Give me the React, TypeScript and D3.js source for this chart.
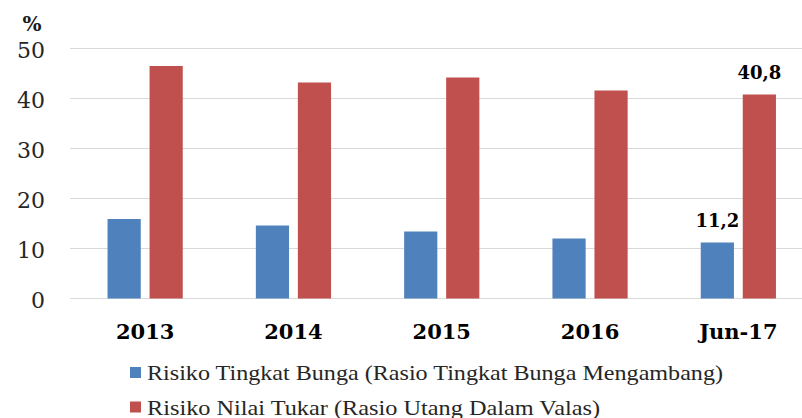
import * as d3 from 'd3';
import { useEffect, useRef } from 'react';

const categories = ['2013', '2014', '2015', '2016', 'Jun-17'];
const seriesNames = [
  'Risiko Tingkat Bunga (Rasio Tingkat Bunga Mengambang)',
  'Risiko Nilai Tukar (Rasio Utang Dalam Valas)',
];
const interestRisk = [15.9, 14.6, 13.4, 12.0, 11.2];
const fxRisk = [46.5, 43.2, 44.2, 41.6, 40.8];
const yTicks = [0, 10, 20, 30, 40, 50];
const seriesColors = ['#4F81BD', '#C0504D'];

const width = 802;
const height = 418;

export default function App(): React.ReactElement {
  const svgRef = useRef<SVGSVGElement>(null);

  useEffect(() => {
    if (!svgRef.current) return;
    const svg = d3.select(svgRef.current);
    svg.selectAll('*').remove();

    const numFont = "'DejaVu Serif', serif";
    const textFont = "'Liberation Serif', 'DejaVu Serif', serif";

    const x0 = d3.scaleBand().domain(categories).range([71, 812.5]).padding(0);
    const x1 = d3
      .scaleBand()
      .domain(['0', '1'])
      .range([0, x0.bandwidth()])
      .paddingInner(0.21)
      .paddingOuter(0.87);
    const y = d3.scaleLinear().domain([0, 50]).range([298.5, 48.5]);

    // grid
    svg
      .append('g')
      .selectAll('line')
      .data(yTicks)
      .enter()
      .append('line')
      .attr('x1', 70)
      .attr('x2', width)
      .attr('y1', (d) => y(d))
      .attr('y2', (d) => y(d))
      .attr('stroke', '#d9d9d9')
      .attr('stroke-width', 1.2);

    // y tick labels
    svg
      .append('g')
      .selectAll('text')
      .data(yTicks)
      .enter()
      .append('text')
      .attr('x', 45)
      .attr('y', (d) => y(d))
      .attr('dy', '0.42em')
      .attr('text-anchor', 'end')
      .attr('fill', '#262626')
      .attr('font-family', numFont)
      .attr('font-size', 22)
      .text((d) => d);

    svg
      .append('text')
      .attr('x', 32)
      .attr('y', 31)
      .attr('text-anchor', 'middle')
      .attr('fill', '#1a1a1a')
      .attr('font-family', numFont)
      .attr('font-weight', 'bold')
      .attr('font-size', 20)
      .text('%');

    // bars
    const rows = categories.map((c, i) => ({ cat: c, values: [interestRisk[i], fxRisk[i]] }));
    const groups = svg
      .append('g')
      .selectAll('g')
      .data(rows)
      .enter()
      .append('g')
      .attr('transform', (d) => `translate(${x0(d.cat)},0)`);

    groups
      .selectAll('rect')
      .data((d) => d.values.map((v, k) => ({ k, v })))
      .enter()
      .append('rect')
      .attr('x', (d) => x1(String(d.k)) || 0)
      .attr('width', x1.bandwidth())
      .attr('y', (d) => y(d.v))
      .attr('height', (d) => y(0) - y(d.v))
      .attr('fill', (d) => seriesColors[d.k]);

    // value labels on last category
    const last = categories.length - 1;
    const labelData = [
      { k: 0, v: interestRisk[last] },
      { k: 1, v: fxRisk[last] },
    ];
    svg
      .append('g')
      .selectAll('text')
      .data(labelData)
      .enter()
      .append('text')
      .attr('x', (d) => (x0(categories[last]) || 0) + (x1(String(d.k)) || 0) + x1.bandwidth() / 2)
      .attr('y', (d) => y(d.v) - 16)
      .attr('text-anchor', 'middle')
      .attr('fill', '#000')
      .attr('font-family', numFont)
      .attr('font-weight', 'bold')
      .attr('font-size', 18)
      .text((d) => d.v.toFixed(1).replace('.', ','));

    // x labels
    svg
      .append('g')
      .selectAll('text')
      .data(categories)
      .enter()
      .append('text')
      .attr('x', (d) => (x0(d) || 0) + x0.bandwidth() / 2)
      .attr('y', 339)
      .attr('text-anchor', 'middle')
      .attr('fill', '#000')
      .attr('font-family', numFont)
      .attr('font-weight', 'bold')
      .attr('font-size', 21)
      .text((d) => d);

    // legend
    const legendLengths = [576, 453];
    const legend = svg
      .append('g')
      .selectAll('g')
      .data(seriesNames)
      .enter()
      .append('g')
      .attr('transform', (_, i) => `translate(130, ${367 + i * 34.5})`);

    legend
      .append('rect')
      .attr('width', 11)
      .attr('height', 11)
      .attr('fill', (_, i) => seriesColors[i]);

    legend
      .append('text')
      .attr('x', 17)
      .attr('y', 13)
      .attr('fill', '#262626')
      .attr('textLength', (_, i) => legendLengths[i])
      .attr('lengthAdjust', 'spacingAndGlyphs')
      .attr('font-family', textFont)
      .attr('font-size', 22)
      .text((d) => d);
  }, []);

  return (
    <svg
      ref={svgRef}
      width={width}
      height={height}
      style={{ position: 'absolute', left: 0, top: 0, background: '#fff' }}
    />
  );
}
